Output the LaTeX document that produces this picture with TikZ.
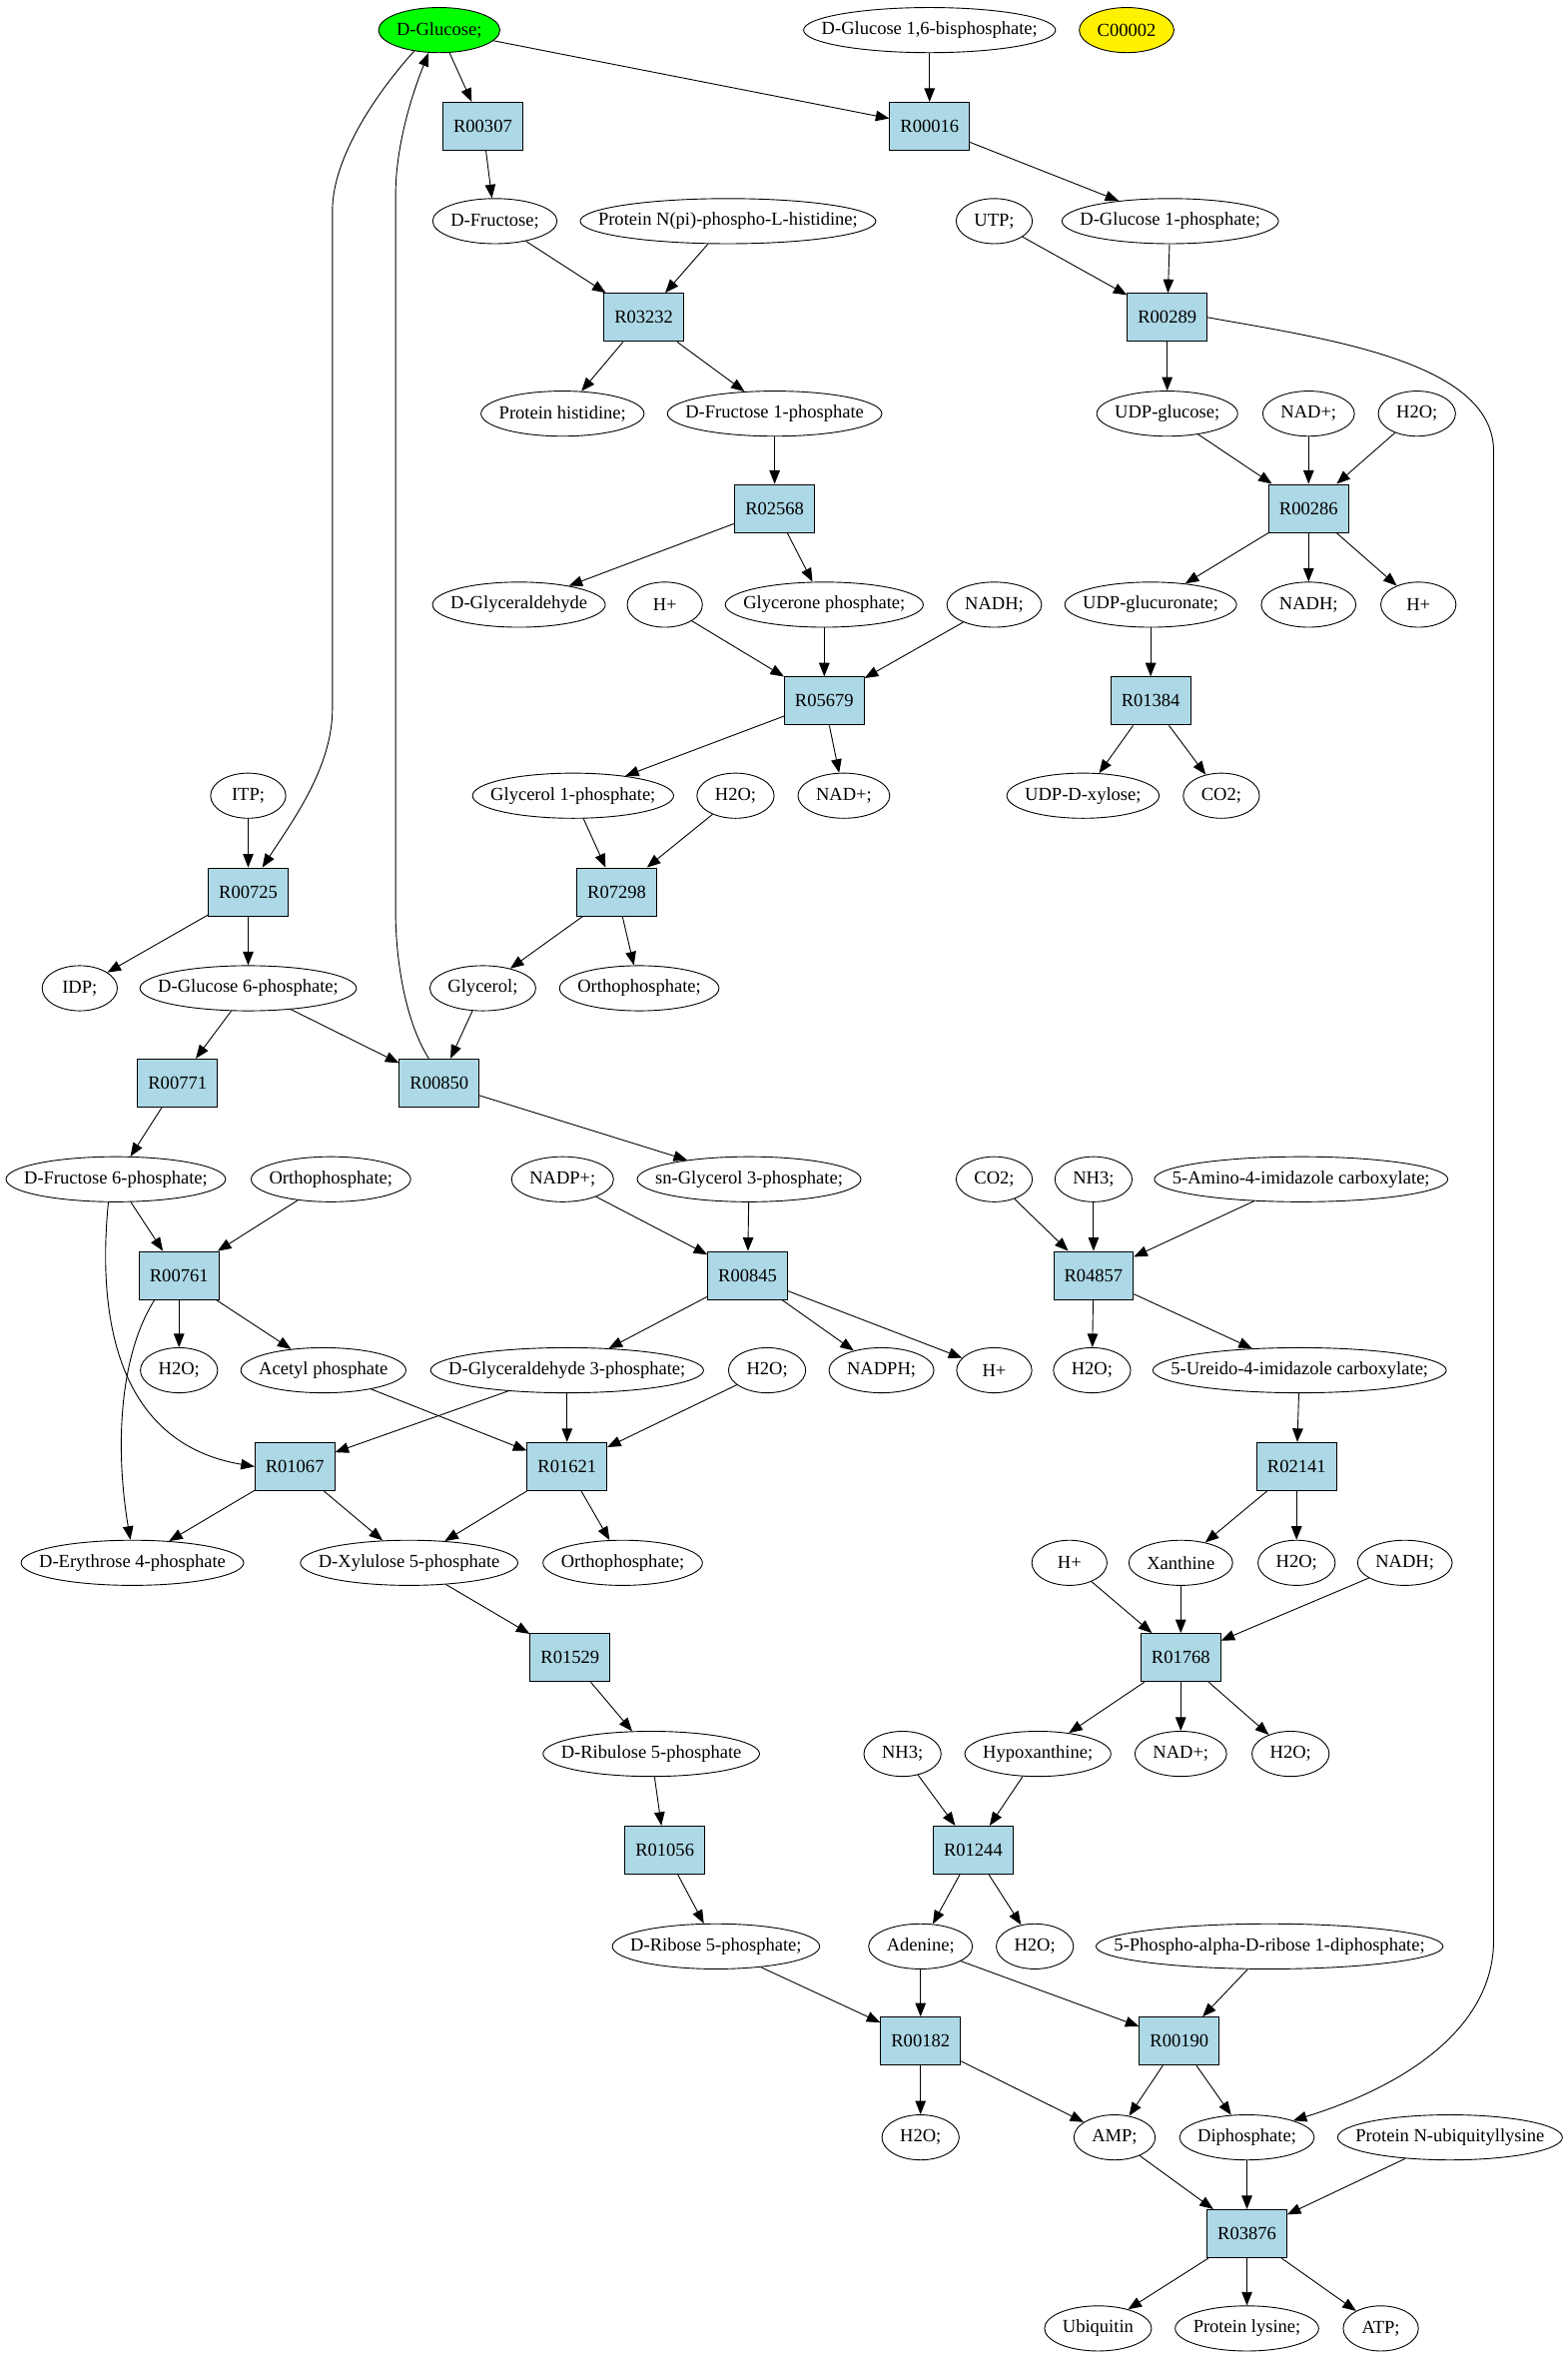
\documentclass[tikz,border=0pt]{standalone}
\usepackage{fontspec}
\setmainfont{Liberation Serif}
\usepackage{tikz}
\usetikzlibrary{arrows.meta,shapes.geometric}
\definecolor{rxnblue}{RGB}{173,216,230}
\newcommand{\arw}{-{Triangle[length=9pt,width=7pt]}}
\newlength{\cpdwd}
\newcommand{\cpdl}[1]{\settowidth{\cpdwd}{#1}\addtolength{\cpdwd}{24pt}\makebox[0.7071\cpdwd]{#1}}
\tikzset{
  cpd/.style={draw,ellipse,inner sep=0pt,minimum width=50pt,minimum height=30pt},
  rxn/.style={draw,rectangle,fill=rxnblue,inner sep=0pt,minimum width=53pt,minimum height=32pt}
}

\begin{document}
\begin{tikzpicture}[x=1pt,y=-1pt,line width=0.6pt,font=\fontsize{12.3}{14}\selectfont]
\useasboundingbox (0,0) rectangle (1042,1569);
%compounds and reactions, row by row
\node[cpd,fill=green] (glc) at (292,20) {\cpdl{D-Glucose;}};
\node[cpd] (g16bp) at (618,20) {\cpdl{D-Glucose 1,6-bisphosphate;}};
\node[cpd,fill=yellow] (c00002) at (749,20) {\cpdl{C00002}};
\node[rxn] (r00307) at (321,84) {R00307};
\node[rxn] (r00016) at (618,84) {R00016};
\node[cpd] (fru) at (329,147) {\cpdl{D-Fructose;}};
\node[cpd] (pnhis) at (484,147) {\cpdl{Protein N(pi)-phospho-L-histidine;}};
\node[cpd] (utp) at (661,147) {\cpdl{UTP;}};
\node[cpd] (g1p) at (778,147) {\cpdl{D-Glucose 1-phosphate;}};
\node[rxn] (r03232) at (428,211) {R03232};
\node[rxn] (r00289) at (776,211) {R00289};
\node[cpd] (phis) at (374,275) {\cpdl{Protein histidine;}};
\node[cpd] (f1p) at (515,275) {\cpdl{D-Fructose 1-phosphate}};
\node[cpd] (udpglc) at (776,275) {\cpdl{UDP-glucose;}};
\node[cpd] (nada) at (870,275) {\cpdl{NAD+;}};
\node[cpd] (h2oa) at (942,275) {\cpdl{H2O;}};
\node[rxn] (r02568) at (515,338) {R02568};
\node[rxn] (r00286) at (870,338) {R00286};
\node[cpd] (glyald) at (345,402) {\cpdl{D-Glyceraldehyde}};
\node[cpd] (hpa) at (442,402) {\cpdl{H+}};
\node[cpd] (dhap) at (548,402) {\cpdl{Glycerone phosphate;}};
\node[cpd] (nadha) at (661,402) {\cpdl{NADH;}};
\node[cpd] (udpgla) at (765,402) {\cpdl{UDP-glucuronate;}};
\node[cpd] (nadhb) at (870,402) {\cpdl{NADH;}};
\node[cpd] (hpb) at (943,402) {\cpdl{H+}};
\node[rxn] (r05679) at (548,466) {R05679};
\node[rxn] (r01384) at (765,466) {R01384};
\node[cpd] (itp) at (165,529) {\cpdl{ITP;}};
\node[cpd] (gol1p) at (381,529) {\cpdl{Glycerol 1-phosphate;}};
\node[cpd] (h2ob) at (489,529) {\cpdl{H2O;}};
\node[cpd] (nadb) at (561,529) {\cpdl{NAD+;}};
\node[cpd] (udpxyl) at (720,529) {\cpdl{UDP-D-xylose;}};
\node[cpd] (co2a) at (812,529) {\cpdl{CO2;}};
\node[rxn] (r00725) at (165,593) {R00725};
\node[rxn] (r07298) at (410,593) {R07298};
\node[cpd] (idp) at (53,657) {\cpdl{IDP;}};
\node[cpd] (g6p) at (165,657) {\cpdl{D-Glucose 6-phosphate;}};
\node[cpd] (glyc) at (321,657) {\cpdl{Glycerol;}};
\node[cpd] (pia) at (425,657) {\cpdl{Orthophosphate;}};
\node[rxn] (r00771) at (118,720) {R00771};
\node[rxn] (r00850) at (292,720) {R00850};
\node[cpd] (f6p) at (77,784) {\cpdl{D-Fructose 6-phosphate;}};
\node[cpd] (pib) at (220,784) {\cpdl{Orthophosphate;}};
\node[cpd] (nadp) at (374,784) {\cpdl{NADP+;}};
\node[cpd] (gol3p) at (498,784) {\cpdl{sn-Glycerol 3-phosphate;}};
\node[cpd] (co2b) at (661,784) {\cpdl{CO2;}};
\node[cpd] (nh3a) at (727,784) {\cpdl{NH3;}};
\node[cpd] (air) at (865,784) {\cpdl{5-Amino-4-imidazole carboxylate;}};
\node[rxn] (r00761) at (119,848) {R00761};
\node[rxn] (r00845) at (497,848) {R00845};
\node[rxn] (r04857) at (727,848) {R04857};
\node[cpd] (h2oc) at (119,911) {\cpdl{H2O;}};
\node[cpd] (acp) at (215,911) {\cpdl{Acetyl phosphate}};
\node[cpd] (gap) at (377,911) {\cpdl{D-Glyceraldehyde 3-phosphate;}};
\node[cpd] (h2od) at (510,911) {\cpdl{H2O;}};
\node[cpd] (nadph) at (586,911) {\cpdl{NADPH;}};
\node[cpd] (hpc) at (661,911) {\cpdl{H+}};
\node[cpd] (h2oe) at (726,911) {\cpdl{H2O;}};
\node[cpd] (uair) at (864,911) {\cpdl{5-Ureido-4-imidazole carboxylate;}};
\node[rxn] (r01067) at (196,975) {R01067};
\node[rxn] (r01621) at (377,975) {R01621};
\node[rxn] (r02141) at (862,975) {R02141};
\node[cpd] (ery) at (88,1039) {\cpdl{D-Erythrose 4-phosphate}};
\node[cpd] (xyl) at (272,1039) {\cpdl{D-Xylulose 5-phosphate}};
\node[cpd] (pic) at (414,1039) {\cpdl{Orthophosphate;}};
\node[cpd] (hpd) at (711,1039) {\cpdl{H+}};
\node[cpd] (xan) at (785,1039) {\cpdl{Xanthine}};
\node[cpd] (h2of) at (862,1039) {\cpdl{H2O;}};
\node[cpd] (nadhc) at (934,1039) {\cpdl{NADH;}};
\node[rxn] (r01529) at (379,1102) {R01529};
\node[rxn] (r01768) at (785,1102) {R01768};
\node[cpd] (ru5p) at (433,1166) {\cpdl{D-Ribulose 5-phosphate}};
\node[cpd] (nh3b) at (600,1166) {\cpdl{NH3;}};
\node[cpd] (hyp) at (690,1166) {\cpdl{Hypoxanthine;}};
\node[cpd] (nadc) at (785,1166) {\cpdl{NAD+;}};
\node[cpd] (h2og) at (858,1166) {\cpdl{H2O;}};
\node[rxn] (r01056) at (442,1230) {R01056};
\node[rxn] (r01244) at (647,1230) {R01244};
\node[cpd] (r5p) at (476,1294) {\cpdl{D-Ribose 5-phosphate;}};
\node[cpd] (ade) at (612,1294) {\cpdl{Adenine;}};
\node[cpd] (h2oh) at (688,1294) {\cpdl{H2O;}};
\node[cpd] (prpp) at (844,1294) {\cpdl{5-Phospho-alpha-D-ribose 1-diphosphate;}};
\node[rxn] (r00182) at (612,1357) {R00182};
\node[rxn] (r00190) at (784,1357) {R00190};
\node[cpd] (h2oi) at (612,1421) {\cpdl{H2O;}};
\node[cpd] (amp) at (741,1421) {\cpdl{AMP;}};
\node[cpd] (diph) at (829,1421) {\cpdl{Diphosphate;}};
\node[cpd] (pnub) at (964,1421) {\cpdl{Protein N-ubiquityllysine}};
\node[rxn] (r03876) at (829,1485) {R03876};
\node[cpd] (ubq) at (730,1548) {\cpdl{Ubiquitin}};
\node[cpd] (plys) at (829,1548) {\cpdl{Protein lysine;}};
\node[cpd] (atp) at (918,1548) {\cpdl{ATP;}};
%long curved edges
\draw[\arw] (glc.220) .. controls (250,62) and (221,105) .. (221,140) -- (221,471) .. controls (221,510) and (195,545) .. (r00725.60);
\draw[\arw] (r00850.113) .. controls (270,680) and (263,640) .. (263,606) -- (263,130) .. controls (263,95) and (275,60) .. (glc.245);
\draw[\arw] (r00289.east) .. controls (880,225) and (993,240) .. (993,300) -- (993,1290) .. controls (993,1345) and (940,1385) .. (diph.20);
\draw[\arw] (f6p.252) .. controls (64,880) and (80,960) .. (r01067.west);
\draw[\arw] (r00761.225) .. controls (80,900) and (76,960) .. (ery.95);
%straight edges
\draw[\arw] (glc) -- (r00307);
\draw[\arw] (glc) -- (r00016);
\draw[\arw] (g16bp) -- (r00016);
\draw[\arw] (r00016) -- (g1p);
\draw[\arw] (r00307) -- (fru);
\draw[\arw] (fru) -- (r03232);
\draw[\arw] (pnhis) -- (r03232);
\draw[\arw] (r03232) -- (phis);
\draw[\arw] (r03232) -- (f1p);
\draw[\arw] (utp) -- (r00289);
\draw[\arw] (g1p) -- (r00289);
\draw[\arw] (r00289) -- (udpglc);
\draw[\arw] (f1p) -- (r02568);
\draw[\arw] (r02568) -- (glyald);
\draw[\arw] (r02568) -- (dhap);
\draw[\arw] (udpglc) -- (r00286);
\draw[\arw] (nada) -- (r00286);
\draw[\arw] (h2oa) -- (r00286);
\draw[\arw] (r00286) -- (udpgla);
\draw[\arw] (r00286) -- (nadhb);
\draw[\arw] (r00286) -- (hpb);
\draw[\arw] (hpa) -- (r05679);
\draw[\arw] (dhap) -- (r05679);
\draw[\arw] (nadha) -- (r05679);
\draw[\arw] (udpgla) -- (r01384);
\draw[\arw] (r01384) -- (udpxyl);
\draw[\arw] (r01384) -- (co2a);
\draw[\arw] (r05679) -- (gol1p);
\draw[\arw] (r05679) -- (nadb);
\draw[\arw] (itp) -- (r00725);
\draw[\arw] (gol1p) -- (r07298);
\draw[\arw] (h2ob) -- (r07298);
\draw[\arw] (r00725) -- (idp);
\draw[\arw] (r00725) -- (g6p);
\draw[\arw] (r07298) -- (glyc);
\draw[\arw] (r07298) -- (pia);
\draw[\arw] (g6p) -- (r00771);
\draw[\arw] (g6p) -- (r00850);
\draw[\arw] (glyc) -- (r00850);
\draw[\arw] (r00771) -- (f6p);
\draw[\arw] (r00850) -- (gol3p);
\draw[\arw] (f6p) -- (r00761);
\draw[\arw] (pib) -- (r00761);
\draw[\arw] (nadp) -- (r00845);
\draw[\arw] (gol3p) -- (r00845);
\draw[\arw] (co2b) -- (r04857);
\draw[\arw] (nh3a) -- (r04857);
\draw[\arw] (air) -- (r04857);
\draw[\arw] (r00761) -- (h2oc);
\draw[\arw] (r00761) -- (acp);
\draw[\arw] (r00845) -- (gap);
\draw[\arw] (r00845) -- (nadph);
\draw[\arw] (r00845) -- (hpc);
\draw[\arw] (r04857) -- (h2oe);
\draw[\arw] (r04857) -- (uair);
\draw[\arw] (gap) -- (r01067);
\draw[\arw] (acp) -- (r01621);
\draw[\arw] (gap) -- (r01621);
\draw[\arw] (h2od) -- (r01621);
\draw[\arw] (uair) -- (r02141);
\draw[\arw] (r01067) -- (ery);
\draw[\arw] (r01067) -- (xyl);
\draw[\arw] (r01621) -- (xyl);
\draw[\arw] (r01621) -- (pic);
\draw[\arw] (r02141) -- (xan);
\draw[\arw] (r02141) -- (h2of);
\draw[\arw] (hpd) -- (r01768);
\draw[\arw] (xan) -- (r01768);
\draw[\arw] (nadhc) -- (r01768);
\draw[\arw] (xyl) -- (r01529);
\draw[\arw] (r01529) -- (ru5p);
\draw[\arw] (r01768) -- (hyp);
\draw[\arw] (r01768) -- (nadc);
\draw[\arw] (r01768) -- (h2og);
\draw[\arw] (ru5p) -- (r01056);
\draw[\arw] (r01056) -- (r5p);
\draw[\arw] (nh3b) -- (r01244);
\draw[\arw] (hyp) -- (r01244);
\draw[\arw] (r01244) -- (ade);
\draw[\arw] (r01244) -- (h2oh);
\draw[\arw] (r5p) -- (r00182);
\draw[\arw] (ade) -- (r00182);
\draw[\arw] (ade) -- (r00190);
\draw[\arw] (prpp) -- (r00190);
\draw[\arw] (r00182) -- (h2oi);
\draw[\arw] (r00182) -- (amp);
\draw[\arw] (r00190) -- (amp);
\draw[\arw] (r00190) -- (diph);
\draw[\arw] (amp) -- (r03876);
\draw[\arw] (diph) -- (r03876);
\draw[\arw] (pnub) -- (r03876);
\draw[\arw] (r03876) -- (ubq);
\draw[\arw] (r03876) -- (plys);
\draw[\arw] (r03876) -- (atp);
\end{tikzpicture}
\end{document}
